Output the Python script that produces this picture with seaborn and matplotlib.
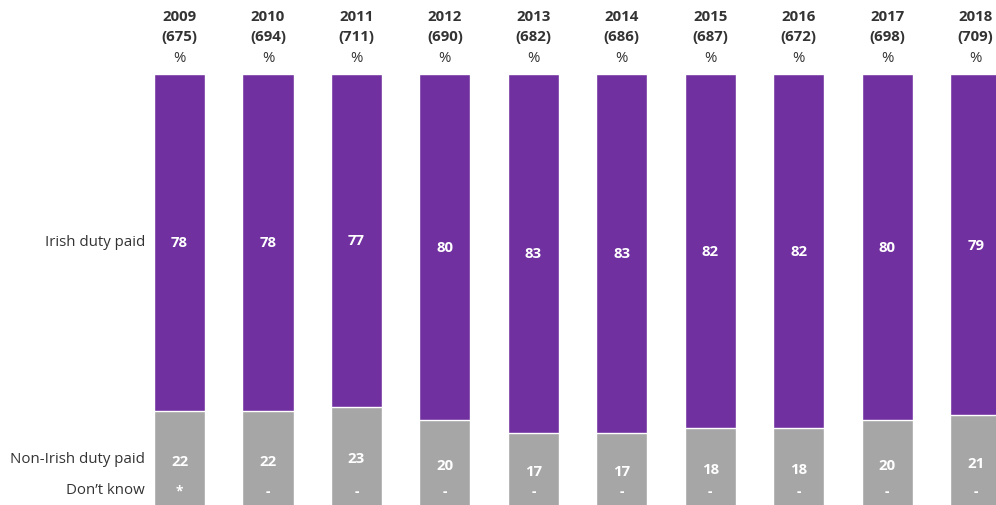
import numpy as np
import pandas as pd
import matplotlib
matplotlib.use('Agg')
import matplotlib.pyplot as plt
import seaborn as sns

years = ['2009', '2010', '2011', '2012', '2013', '2014', '2015', '2016', '2017', '2018']
bases = [675, 694, 711, 690, 682, 686, 687, 672, 698, 709]
irish = [78, 78, 77, 80, 83, 83, 82, 82, 80, 79]
non_irish = [22, 22, 23, 20, 17, 17, 18, 18, 20, 21]
dont_know = ['*', '-', '-', '-', '-', '-', '-', '-', '-', '-']

purple = '#7030A0'
grey = '#A6A6A6'
txt = '#333333'

sns.set_theme(style='white')
plt.rcParams['font.family'] = ['Open Sans', 'DejaVu Sans']

df = pd.DataFrame({'year': years, 'irish': irish, 'non_irish': non_irish})
df['total'] = df['irish'] + df['non_irish']

fig = plt.figure(figsize=(9.96, 5.06), dpi=100)
ax = fig.add_axes([0, -0.002, 1, 432 / 506])

# stacked bars: full height in purple, grey drawn over the bottom part
sns.barplot(data=df, x='year', y='total', color=purple, width=0.577,
            edgecolor='white', linewidth=1, saturation=1, ax=ax)
sns.barplot(data=df, x='year', y='non_irish', color=grey, width=0.577,
            edgecolor='white', linewidth=1, saturation=1, ax=ax)

ax.set_xlim(-2.03, 9.23)
ax.set_ylim(0, 100)
ax.axis('off')

fs = 10.8
for i, yr in enumerate(years):
    ax.text(i, df['non_irish'][i] + df['irish'][i] / 2, str(irish[i]), ha='center', va='center',
            color='white', fontsize=fs, fontweight='bold')
    ax.text(i, df['non_irish'][i] / 2 - 0.5, str(non_irish[i]), ha='center', va='center',
            color='white', fontsize=fs, fontweight='bold')
    ax.text(i, 3.5, dont_know[i], ha='center', va='center',
            color='white', fontsize=fs - 1, fontweight='bold')
    # column headers
    ax.text(i, 113.5, yr, ha='center', va='center', fontsize=fs,
            fontweight='bold', color=txt, clip_on=False)
    ax.text(i, 108.8, '(%d)' % bases[i], ha='center', va='center', fontsize=fs,
            fontweight='bold', color=txt, clip_on=False)
    ax.text(i, 103.9, '%', ha='center', va='center', fontsize=fs,
            color=txt, clip_on=False)

ax.text(-0.39, 61.3, 'Irish duty paid', ha='right', va='center', fontsize=fs, color=txt)
ax.text(-0.39, 10.9, 'Non-Irish duty paid', ha='right', va='center', fontsize=fs, color=txt)
ax.text(-0.39, 3.9, 'Don\u2019t know', ha='right', va='center', fontsize=fs, color=txt)

fig.savefig('out.png', dpi=100)
